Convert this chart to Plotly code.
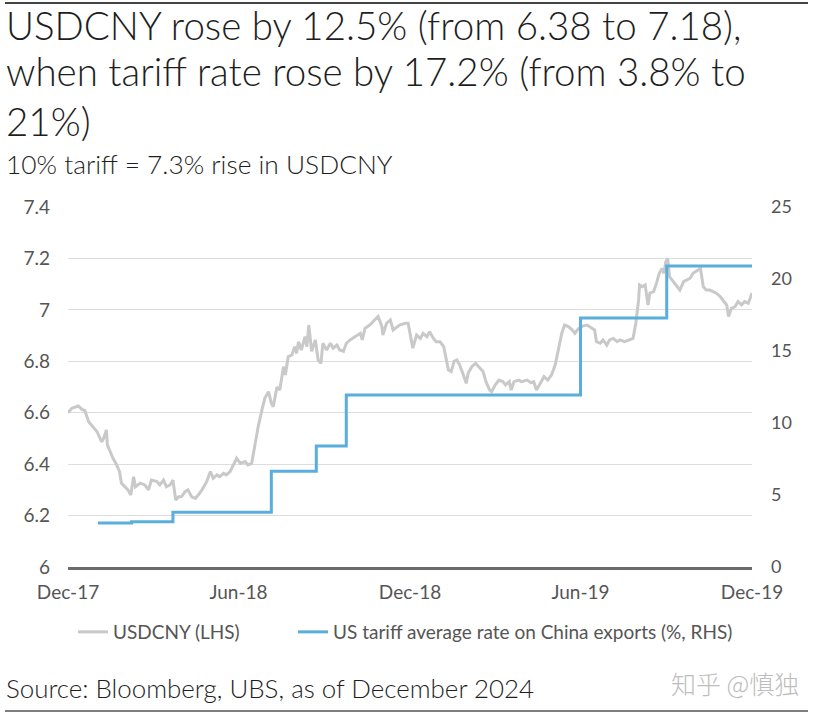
import pandas as pd
import plotly.graph_objects as go

# ---------------- data ----------------
START = pd.Timestamp("2017-12-01")
# USDCNY (LHS): calendar days since 1 Dec 2017, and the rate
usdcny_day = [0, 4, 11, 15, 18, 22, 25, 31, 36, 38, 41, 42, 45, 48, 52, 55, 57, 61, 64, 67,
              70, 72, 77, 82, 86, 89, 95, 98, 102, 105, 109, 112, 115, 118, 121, 125, 128, 132,
              136, 139, 143, 148, 152, 155, 159, 162, 166, 169, 173, 180, 184, 189, 192, 196,
              200, 203, 207, 210, 214, 217, 219, 223, 226, 230, 232, 235, 239, 242, 244, 246,
              249, 253, 255, 257, 260, 264, 267, 270, 272, 276, 280, 283, 287, 290, 294, 297,
              301, 306, 312, 314, 317, 322, 328, 331, 335, 336, 340, 344, 347, 351, 354, 360,
              363, 365, 368, 372, 376, 379, 383, 386, 390, 393, 397, 401, 403, 406, 409, 412,
              415, 418, 422, 425, 427, 431, 435, 440, 443, 446, 450, 452, 456, 460, 464, 467,
              471, 473, 476, 481, 484, 490, 494, 497, 500, 504, 508, 512, 516, 520, 524, 527,
              530, 534, 538, 541, 545, 550, 554, 559, 562, 564, 568, 571, 575, 578, 582, 586,
              589, 594, 600, 603, 606, 609, 610, 613, 616, 619, 621, 625, 628, 631, 634, 636,
              638, 640, 642, 646, 650, 653, 657, 660, 664, 667, 673, 675, 678, 681, 685, 689,
              692, 696, 699, 703, 705, 708, 712, 715, 719, 722, 726, 730]
usdcny_val = [6.600, 6.617, 6.626, 6.613, 6.608, 6.565, 6.552, 6.526, 6.487, 6.500, 6.533, 6.475,
              6.449, 6.423, 6.397, 6.371, 6.326, 6.312, 6.300, 6.280, 6.351, 6.312, 6.326, 6.319,
              6.300, 6.338, 6.332, 6.319, 6.338, 6.312, 6.319, 6.338, 6.260, 6.273, 6.273, 6.293,
              6.300, 6.273, 6.267, 6.280, 6.300, 6.332, 6.371, 6.345, 6.358, 6.351, 6.364, 6.358,
              6.371, 6.423, 6.403, 6.410, 6.397, 6.403, 6.494, 6.546, 6.611, 6.656, 6.682, 6.637,
              6.623, 6.700, 6.688, 6.779, 6.747, 6.818, 6.825, 6.857, 6.831, 6.876, 6.844, 6.896,
              6.857, 6.941, 6.839, 6.883, 6.805, 6.792, 6.870, 6.844, 6.870, 6.851, 6.863, 6.844,
              6.839, 6.870, 6.883, 6.896, 6.909, 6.883, 6.928, 6.941, 6.961, 6.974, 6.935, 6.902,
              6.948, 6.961, 6.922, 6.935, 6.941, 6.948, 6.948, 6.909, 6.851, 6.902, 6.889, 6.909,
              6.896, 6.915, 6.889, 6.876, 6.876, 6.857, 6.818, 6.766, 6.760, 6.800, 6.805, 6.786,
              6.747, 6.714, 6.753, 6.779, 6.792, 6.773, 6.760, 6.721, 6.688, 6.682, 6.708, 6.727,
              6.721, 6.708, 6.721, 6.688, 6.721, 6.727, 6.721, 6.727, 6.717, 6.721, 6.688, 6.714,
              6.740, 6.727, 6.747, 6.786, 6.857, 6.909, 6.941, 6.935, 6.922, 6.909, 6.928, 6.938,
              6.941, 6.928, 6.922, 6.876, 6.870, 6.883, 6.863, 6.883, 6.889, 6.876, 6.883, 6.876,
              6.883, 6.889, 6.948, 7.039, 7.097, 7.090, 7.097, 7.019, 7.065, 7.071, 7.103, 7.142,
              7.161, 7.142, 7.187, 7.200, 7.129, 7.110, 7.090, 7.077, 7.110, 7.116, 7.123, 7.142,
              7.155, 7.161, 7.090, 7.077, 7.077, 7.071, 7.065, 7.052, 7.039, 7.019, 6.974, 7.006,
              7.013, 7.032, 7.019, 7.032, 7.026, 7.065]

# US tariff average rate on China exports (%, RHS), step dates
tariff_dates = ["2018-01-02", "2018-02-07", "2018-03-23", "2018-07-06", "2018-08-23",
                "2018-09-24", "2019-06-01", "2019-09-01", "2019-12-01"]
tariff_vals = [3.05, 3.15, 3.8, 6.65, 8.4, 11.95, 17.3, 20.9, 20.9]

x_tick_dates = ["2017-12-01", "2018-06-01", "2018-12-01", "2019-06-01", "2019-12-01"]
x_tick_text = ["Dec-17", "Jun-18", "Dec-18", "Jun-19", "Dec-19"]
left_ticks = [6, 6.2, 6.4, 6.6, 6.8, 7, 7.2, 7.4]
left_tick_text = ["6", "6.2", "6.4", "6.6", "6.8", "7", "7.2", "7.4"]
right_ticks = [0, 5, 10, 15, 20, 25]

title_lines = ["USDCNY rose by 12.5% (from 6.38 to 7.18),",
               "when tariff rate rose by 17.2% (from 3.8% to",
               "21%)"]
subtitle_text = "10% tariff = 7.3% rise in USDCNY"
source_text = "Source: Bloomberg, UBS, as of December 2024"
watermark_text = "知乎 @慎独"

FONT = "Lato"
GRAY = "#c9c9c9"
BLUE = "#5aaedc"

usdcny_dates = START + pd.to_timedelta(usdcny_day, unit="D")

fig = go.Figure()
fig.add_trace(go.Scatter(x=usdcny_dates, y=usdcny_val, mode="lines", name="USDCNY (LHS)",
                         line=dict(color=GRAY, width=3), yaxis="y", legend="legend"))
fig.add_trace(go.Scatter(x=tariff_dates, y=tariff_vals, mode="lines",
                         name="US tariff average rate on China exports (%, RHS)",
                         line=dict(color=BLUE, width=3, shape="hv"), yaxis="y2",
                         legend="legend2"))

# plot area: x 68..752, y 207..567 (px)
L, R, T, B = 68, 752, 207, 567
W, H = 817, 716
PW, PH = R - L, B - T


def px(xp):
    return (xp - L) / PW


def py(yp):
    return (B - yp) / PH


legend_style = dict(orientation="h", xanchor="left", y=py(632), yanchor="middle",
                    font=dict(size=19, color="#555555", family=FONT), itemwidth=30,
                    bgcolor="rgba(0,0,0,0)")

fig.update_layout(
    width=W, height=H,
    margin=dict(l=L, r=W - R, t=T, b=H - B, pad=0),
    paper_bgcolor="white", plot_bgcolor="white",
    font=dict(family=FONT, color="#555555"),
    showlegend=True,
    legend=dict(x=px(73), **legend_style),
    legend2=dict(x=px(293), **legend_style),
    xaxis=dict(range=[START, "2019-12-01"], showgrid=False, showline=True,
               linecolor="#6b6b6b", linewidth=2.5, ticks="", tickvals=x_tick_dates,
               ticktext=x_tick_text, tickfont=dict(size=19, color="#555555"),
               zeroline=False, ticklabelstandoff=6),
    yaxis=dict(range=[6, 7.4], tickvals=left_ticks, ticktext=left_tick_text,
               showgrid=True, gridcolor="#dddddd", gridwidth=1, zeroline=False,
               showline=False, ticks="", tickfont=dict(size=19, color="#555555"),
               ticklabelstandoff=17),
    yaxis2=dict(range=[0, 25], tickvals=right_ticks, overlaying="y", side="right",
                showgrid=False, zeroline=False, showline=False, ticks="",
                tickfont=dict(size=18, color="#555555"), ticklabelstandoff=18),
)

title_font = dict(size=38.5, color="#1e1e1e", family=FONT, weight=300)
annotations = [
    dict(text=title_lines[0], x=px(4), y=py(0), xref="paper", yref="paper", xanchor="left",
         yanchor="top", showarrow=False, font=title_font),
    dict(text=title_lines[1], x=px(4), y=py(71), xref="paper", yref="paper", xanchor="left",
         yanchor="middle", showarrow=False, font=title_font),
    dict(text=title_lines[2], x=px(4), y=py(121), xref="paper", yref="paper", xanchor="left",
         yanchor="middle", showarrow=False, font=title_font),
    dict(text=subtitle_text, x=px(4), y=py(164), xref="paper", yref="paper", xanchor="left",
         yanchor="middle", showarrow=False,
         font=dict(size=26.3, color="#1e1e1e", family=FONT, weight=300)),
    dict(text=source_text, x=px(4), y=py(688), xref="paper", yref="paper", xanchor="left",
         yanchor="middle", showarrow=False,
         font=dict(size=25.9, color="#1e1e1e", family=FONT, weight=300)),
    dict(text=watermark_text, x=px(801), y=py(683), xref="paper", yref="paper",
         xanchor="right", yanchor="middle", showarrow=False,
         font=dict(size=25, color="#bdbdbd", family="Noto Sans CJK SC", weight=300)),
]
fig.update_layout(annotations=annotations)

fig.update_layout(shapes=[
    dict(type="line", xref="paper", yref="paper", x0=px(5), x1=px(808), y0=py(3), y1=py(3),
         line=dict(color="#444444", width=2)),
    dict(type="line", xref="paper", yref="paper", x0=px(5), x1=px(808), y0=py(711), y1=py(711),
         line=dict(color="#555555", width=1.5)),
])

fig.write_html("out.html", config={"displayModeBar": False},
               post_script="document.body.style.margin='0px';")
